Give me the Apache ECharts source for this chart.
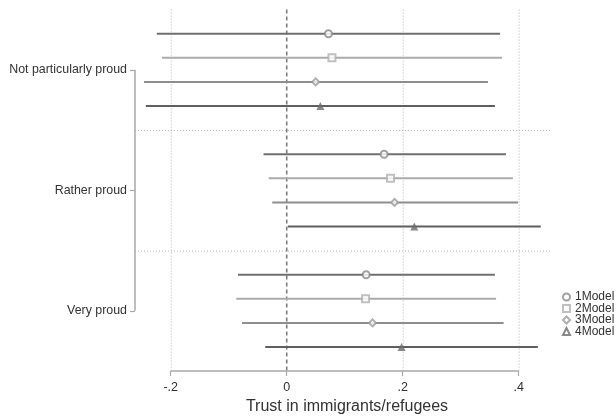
<!DOCTYPE html>
<html>
<head>
<meta charset="utf-8">
<script src="https://cdn.jsdelivr.net/npm/echarts@6/dist/echarts.min.js"></script>
<style>html,body{margin:0;padding:0;background:#fff;}#c{width:616px;height:416px;}</style>
</head>
<body>
<div id="c"></div>
<script>
const categories = ['Not particularly proud', 'Rather proud', 'Very proud'];
const models = ['1Model', '2Model', '3Model', '4Model'];
const estModel1 = [0.072, 0.168, 0.137];
const estModel2 = [0.078, 0.179, 0.136];
const estModel3 = [0.050, 0.186, 0.148];
const estModel4 = [0.058, 0.220, 0.198];
const loModel1 = [-0.224, -0.040, -0.084];
const loModel2 = [-0.215, -0.031, -0.087];
const loModel3 = [-0.246, -0.025, -0.077];
const loModel4 = [-0.243, 0.002, -0.037];
const hiModel1 = [0.368, 0.378, 0.359];
const hiModel2 = [0.371, 0.390, 0.361];
const hiModel3 = [0.347, 0.399, 0.374];
const hiModel4 = [0.359, 0.438, 0.433];
const xTickValues = [-0.2, 0, 0.2, 0.4];
const xTickLabels = ['-.2', '0', '.2', '.4'];

const est = [estModel1, estModel2, estModel3, estModel4];
const lo = [loModel1, loModel2, loModel3, loModel4];
const hi = [hiModel1, hiModel2, hiModel3, hiModel4];

const lineColors = ['#6f6f6f', '#ababab', '#8e8e8e', '#5f5f5f'];
const symbols = ['emptyCircle', 'emptyRect', 'emptyDiamond', 'triangle'];
const legendIcons = ['emptyCircle', 'emptyRect', 'emptyDiamond', 'emptyTriangle'];
const legendColors = ['#8a8a8a', '#b0b0b0', '#9a9a9a', '#6a6a6a'];

const slot = (g, m) => g * 5 + m;
const catPos = categories.map((c, g) => g * 5 + 1.5);

const XMIN = -0.2616, XMAX = 0.454;
const FONT = 'Liberation Sans, Arial, Helvetica, sans-serif';

const series = [];

models.forEach((name, m) => {
  series.push({
    type: 'custom',
    name: 'ci' + m,
    z: 2,
    data: categories.map((c, g) => [lo[m][g], hi[m][g], slot(g, m)]),
    renderItem: function (params, api) {
      const a = api.coord([api.value(0), api.value(2)]);
      const b = api.coord([api.value(1), api.value(2)]);
      return {
        type: 'line',
        shape: { x1: a[0], y1: a[1], x2: b[0], y2: b[1] },
        style: { stroke: lineColors[m], lineWidth: 2 }
      };
    }
  });
});

models.forEach((name, m) => {
  series.push({
    type: 'scatter',
    name: name,
    z: 5,
    symbol: symbols[m],
    symbolSize: m === 3 ? 8 : 7,
    itemStyle: { color: m === 3 ? '#6a6a6a' : legendColors[m], borderWidth: 1.2 },
    data: categories.map((c, g) => [est[m][g], slot(g, m)])
  });
});

series.push({
  type: 'custom',
  name: 'refs',
  z: 1,
  data: [[0, 0]],
  renderItem: function (params, api) {
    const cs = params.coordSys;
    const children = [];
    xTickValues.forEach(v => {
      const p = api.coord([v, 0]);
      if (v === 0) {
        children.push({ type: 'line', shape: { x1: p[0], y1: cs.y, x2: p[0], y2: cs.y + cs.height },
          style: { stroke: '#7d7d7d', lineWidth: 1.6, lineDash: [4, 3] } });
      } else {
        children.push({ type: 'line', shape: { x1: p[0] + 0.5, y1: cs.y, x2: p[0] + 0.5, y2: cs.y + cs.height },
          style: { stroke: '#b5b5b5', lineWidth: 1, lineDash: [1, 2] } });
      }
    });
    [4, 9].forEach(v => {
      const p = api.coord([0, v]);
      children.push({ type: 'line', shape: { x1: cs.x, y1: p[1] + 0.5, x2: cs.x + cs.width, y2: p[1] + 0.5 },
        style: { stroke: '#b5b5b5', lineWidth: 1, lineDash: [1, 2] } });
    });
    const t = api.coord([0, catPos[0]]);
    const b = api.coord([0, catPos[catPos.length - 1]]);
    children.push({ type: 'line', shape: { x1: cs.x, y1: t[1], x2: cs.x, y2: b[1] },
      style: { stroke: '#a8a8a8', lineWidth: 1.5 } });
    const l = api.coord([xTickValues[0], 14]);
    const r = api.coord([xTickValues[xTickValues.length - 1], 14]);
    children.push({ type: 'line', shape: { x1: l[0], y1: cs.y + cs.height, x2: r[0], y2: cs.y + cs.height },
      style: { stroke: '#a8a8a8', lineWidth: 1.5 } });
    return { type: 'group', children: children };
  }
});

const chart = echarts.init(document.getElementById('c'), null, { renderer: 'canvas' });
chart.setOption({
  animation: false,
  backgroundColor: '#fff',
  textStyle: { fontFamily: FONT },
  grid: { left: 135, right: 66, top: 9.6, bottom: 44.9, containLabel: false, outerBoundsMode: 'none' },
  xAxis: {
    type: 'value',
    position: 'bottom',
    min: XMIN,
    max: XMAX,
    name: 'Trust in immigrants/refugees',
    nameLocation: 'middle',
    nameGap: 26,
    nameTextStyle: { fontSize: 16, color: '#333', fontFamily: FONT, padding: [0, 0, 0, 9] },
    axisLine: { show: false, onZero: false },
    splitLine: { show: false },
    axisTick: { show: true, customValues: xTickValues, length: 5, lineStyle: { color: '#a8a8a8', width: 1.2 } },
    axisLabel: {
      customValues: xTickValues,
      margin: 10,
      fontSize: 12.5,
      color: '#333',
      fontFamily: FONT,
      formatter: function (v) {
        const i = xTickValues.findIndex(t => Math.abs(t - v) < 1e-9);
        return i >= 0 ? xTickLabels[i] : '';
      }
    }
  },
  yAxis: {
    type: 'value',
    position: 'left',
    min: -1,
    max: 14,
    inverse: true,
    axisLine: { show: false, onZero: false },
    splitLine: { show: false },
    axisTick: { show: true, customValues: catPos, length: 5, lineStyle: { color: '#a8a8a8', width: 1.2 } },
    axisLabel: {
      customValues: catPos,
      margin: 8,
      fontSize: 12.4,
      color: '#333',
      fontFamily: FONT,
      formatter: function (v) {
        const i = catPos.findIndex(t => Math.abs(t - v) < 1e-9);
        return i >= 0 ? categories[i] : '';
      }
    }
  },
  legend: {
    orient: 'vertical',
    left: 562,
    top: 291,
    padding: 0,
    itemWidth: 7,
    itemHeight: 7,
    itemGap: -0.5,
    textStyle: { fontSize: 12, color: '#333', fontFamily: FONT },
    data: models.map((n, m) => ({ name: n, icon: legendIcons[m], itemStyle: { color: legendColors[m], borderWidth: 1 } }))
  },
  series: series
});
</script>
</body>
</html>
